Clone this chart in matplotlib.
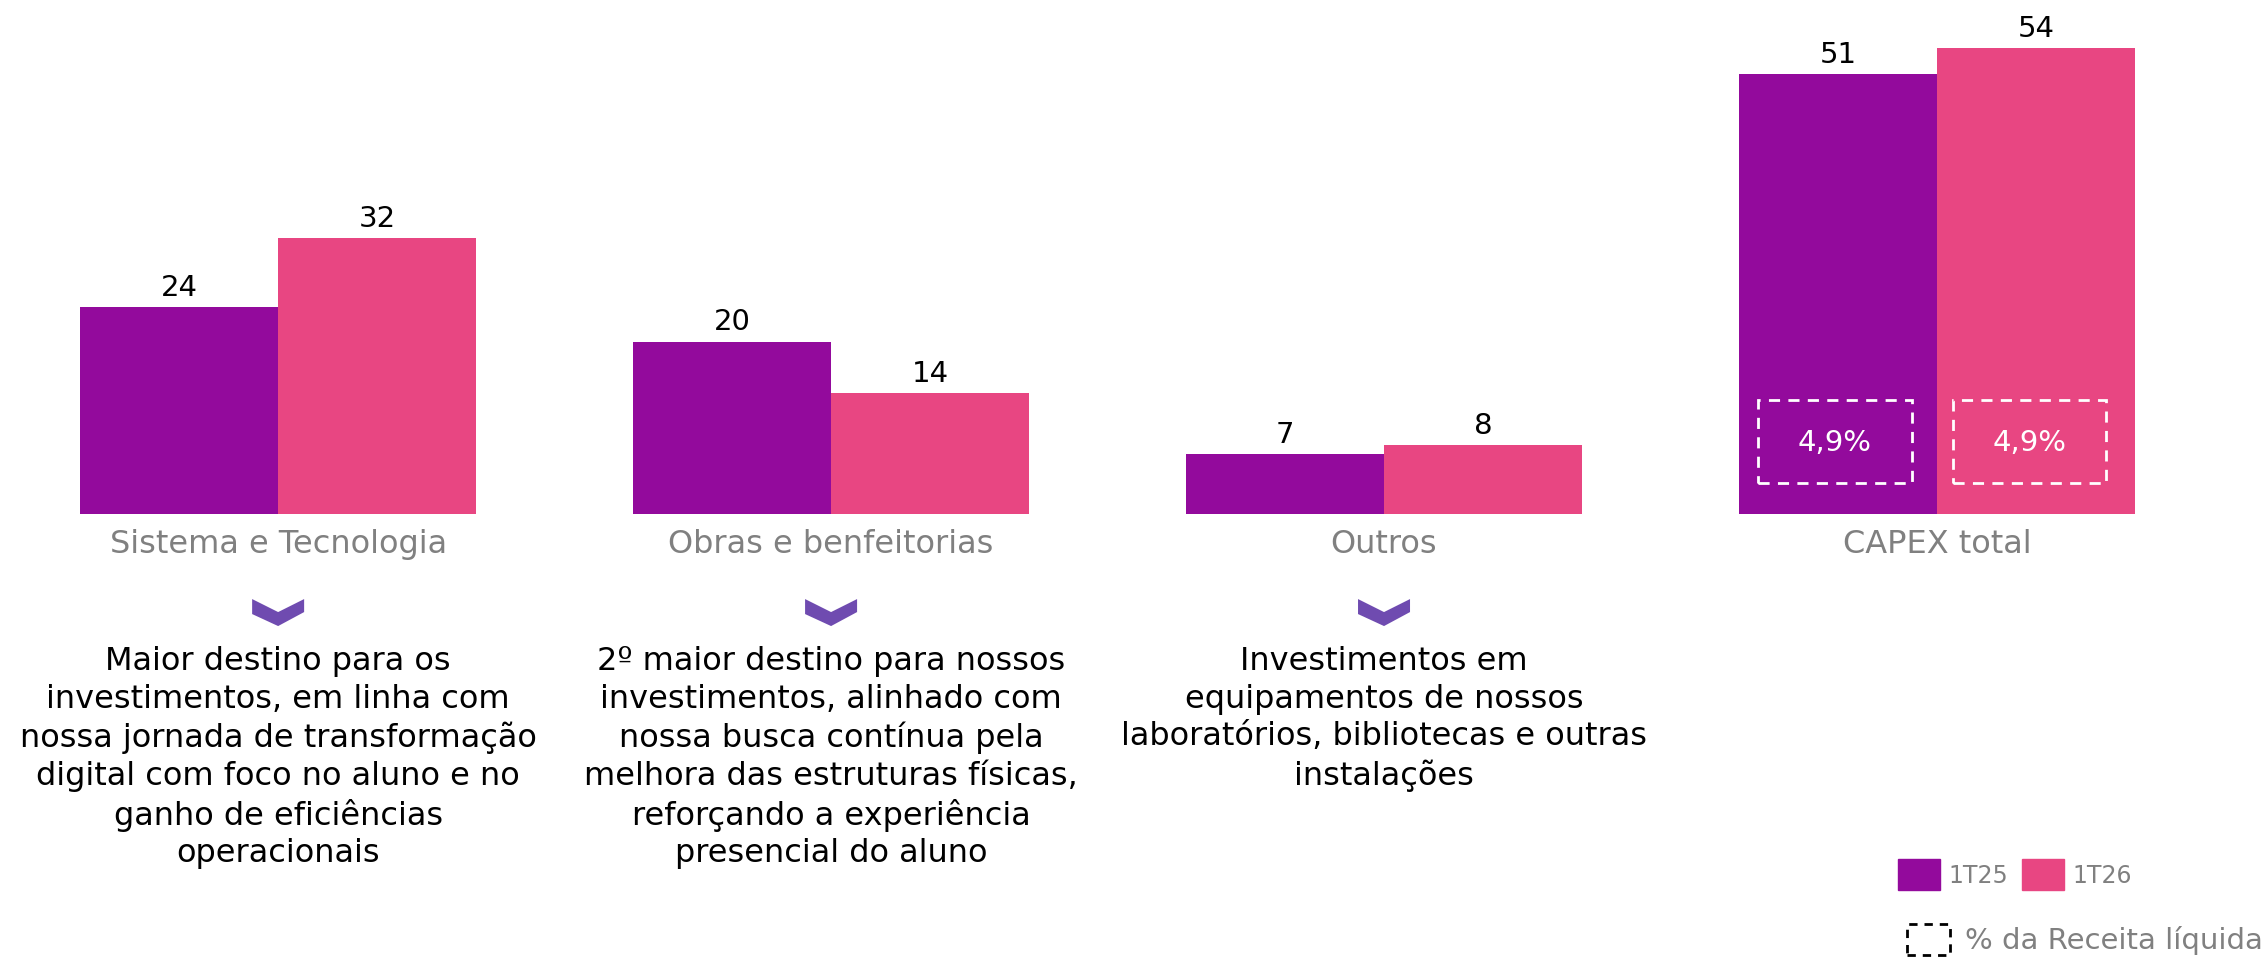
import matplotlib.pyplot as plt
from matplotlib.patches import Rectangle, Polygon

categories = ["Sistema e Tecnologia", "Obras e benfeitorias", "Outros", "CAPEX total"]
tt25 = [24, 20, 7, 51]
tt26 = [32, 14, 8, 54]
series_names = ["1T25", "1T26"]
pct_receita = ["4,9%", "4,9%"]
descriptions = [
    "Maior destino para os\ninvestimentos, em linha com\nnossa jornada de transformação\ndigital com foco no aluno e no\nganho de eficiências\noperacionais",
    "2º maior destino para nossos\ninvestimentos, alinhado com\nnossa busca contínua pela\nmelhora das estruturas físicas,\nreforçando a experiência\npresencial do aluno",
    "Investimentos em\nequipamentos de nossos\nlaboratórios, bibliotecas e outras\ninstalações",
]

PURPLE = "#930a9c"
PINK = "#e84682"
GREY = "#808080"
CHEVRON = "#6f4bb0"
W, H = 2261, 962

plt.rcParams['font.family'] = ['DejaVu Sans']

fig = plt.figure(figsize=(W / 100, H / 100), dpi=100)
ax = fig.add_axes([0, 0, 1, 1])
ax.set_xlim(-0.503, 3.586)
ax.set_ylim(-51.8, 59.7)
ax.axis("off")

bw = 0.358
x = list(range(len(categories)))
b1 = ax.bar([i - bw / 2 for i in x], tt25, width=bw, color=PURPLE)
b2 = ax.bar([i + bw / 2 for i in x], tt26, width=bw, color=PINK)

for bars in (b1, b2):
    for r in bars:
        ax.text(r.get_x() + r.get_width() / 2, r.get_height() + 0.7, f"{r.get_height():.0f}",
                ha="center", va="bottom", fontsize=21, color="black")

for i, c in enumerate(categories):
    ax.text(i, -3.4, c, ha="center", va="center", fontsize=23, color=GREY)

# chevrons + descriptions
for i, d in enumerate(descriptions):
    sx = 1 / 553  # units per pixel
    sy = 1 / 8.63
    top = -9.85
    pts = [(-26, 0), (0, 13), (26, 0), (26, 13), (0, 27), (-26, 15)]
    ax.add_patch(Polygon([(i + px * sx, top - py * sy) for px, py in pts],
                         closed=True, color=CHEVRON, lw=0))
    ax.text(i, -15.2, d, ha="center", va="top", fontsize=23, color="black", linespacing=1.27)

# dashed boxes with % of net revenue inside the CAPEX total bars
k = len(categories) - 1
for (x0, x1), t in zip([(-0.324, -0.045), (0.029, 0.306)], pct_receita):
    ax.add_patch(Rectangle((k + x0, 3.6), x1 - x0, 9.6, fill=False, ec="white",
                           lw=2, ls=(0, (4, 3))))
    ax.text(k + (x0 + x1) / 2, 8.4, t, ha="center", va="center", fontsize=21, color="white")


# legend, drawn by hand in pixel positions
def fx(px):
    return px / W


def fy(py):
    return 1 - py / H


for (x0, col, name) in [(1898, PURPLE, series_names[0]), (2022, PINK, series_names[1])]:
    fig.patches.append(Rectangle((fx(x0), fy(891)), fx(42), 31 / H, color=col,
                                 transform=fig.transFigure))
    fig.text(fx(x0 + 50), fy(876), name, ha="left", va="center", fontsize=17, color=GREY)

fig.patches.append(Rectangle((fx(1907), fy(956)), fx(43), 31 / H, fill=False, ec="black",
                             lw=2, ls=(0, (3, 2.5)), transform=fig.transFigure))
fig.text(fx(1965), fy(941), "% da Receita líquida", ha="left", va="center", fontsize=21, color=GREY)

fig.savefig("out.png", dpi=100)
